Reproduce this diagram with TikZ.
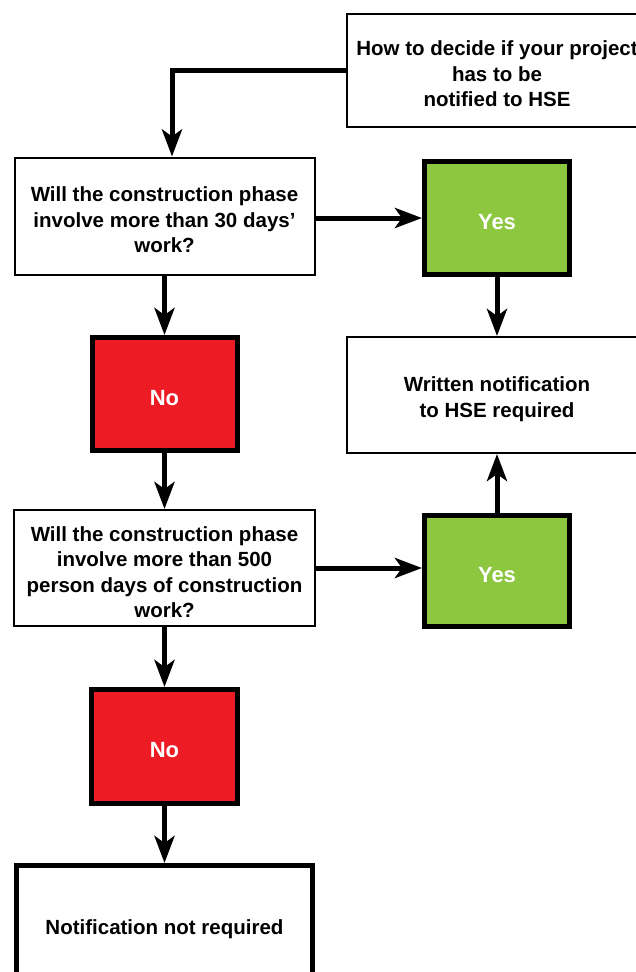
\documentclass[tikz,border=0pt]{standalone}
\usepackage{fontspec}
\setmainfont{Liberation Sans}
\usetikzlibrary{arrows.meta,positioning}
\definecolor{yesgreen}{HTML}{8DC63F}
\definecolor{nored}{HTML}{ED1C24}
\newcommand{\topgap}{\rule{0pt}{23pt}}

\begin{document}
\begin{tikzpicture}[x = 1pt, y = -1pt,
  txt/.style = {font = \fontsize{20.5}{25.5}\selectfont\bfseries, align = center, inner sep = 0pt,
    execute at begin node = {\topgap}},
  thinbox/.style = {txt, draw, line width = 2pt, minimum width = 300pt, minimum height = 116pt},
  yesbox/.style = {txt, draw, line width = 5pt, fill = yesgreen, text = white, font = \fontsize{22}{26}\selectfont\bfseries, minimum width = 145pt, minimum height = 113pt},
  nobox/.style = {yesbox, fill = nored},
  endbox/.style = {txt, draw, line width = 5pt, minimum width = 296pt, minimum height = 119pt},
  arr/.style = {line width = 5pt, -{Stealth[length = 27pt, width = 20pt, inset = 7pt]}}]
\useasboundingbox (0,0) rectangle (636,972);
\clip (0,0) rectangle (636,972);
\node[thinbox, minimum height = 113pt] (title) at (497,70) {\topgap How to decide if your project\\has to be\\notified to HSE};
\node[thinbox, minimum height = 117pt] (q_days) at (164.5,216) {\topgap Will the construction phase\\involve more than 30 days'\\work?};
\node[yesbox] (yes_days) at (497,218) {Yes};
\node[thinbox] (written) at (497,395) {\topgap Written notification\\to HSE required};
\node[nobox] (no_days) at (164.5,394) {No};
\node[thinbox, minimum width = 301pt] (q_person) at (164.5,568) {\topgap Will the construction phase\\involve more than 500\\person days of construction\\work?};
\node[yesbox, minimum height = 111pt] (yes_person) at (497,571) {Yes};
\node[nobox, minimum width = 146pt, minimum height = 114pt] (no_person) at (164.5,746.5) {No};
\node[endbox] (not_req) at (164.5,925) {Notification not required};
\draw[arr] (title.west) -| ([xshift = 7.5pt]q_days.north);
\draw[arr] (q_days.east |- yes_days.west) -- (yes_days.west);
\draw[arr] (yes_days.south) -- (written.north);
\draw[arr] (q_days.south) -- (no_days.north);
\draw[arr] (no_days.south) -- (q_person.north);
\draw[arr] (q_person.east) -- (q_person.east -| yes_person.west);
\draw[arr] (yes_person.north) -- (written.south);
\draw[arr] (q_person.south) -- (no_person.north);
\draw[arr] (no_person.south) -- (not_req.north);
\end{tikzpicture}
\end{document}
